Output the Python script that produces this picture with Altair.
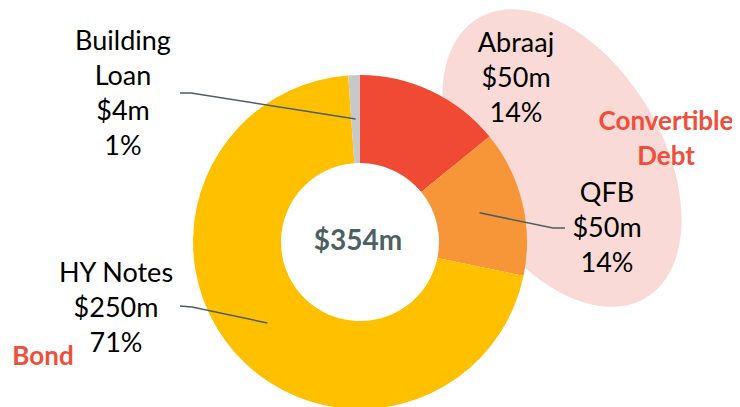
import math
import altair as alt
import pandas as pd

# ---- data ----
categories = ["Abraaj", "QFB", "HY Notes", "Building Loan"]
label_names = ["Abraaj", "QFB", "HY Notes", "Building\nLoan"]
values = [50, 50, 250, 4]  # $m
colors = ["#F04A34", "#F79638", "#FFC000", "#C8C8C8"]
group_names = ["Convertible\nDebt", "Bond"]

total = sum(values)
pcts = [round(v * 100 / total) for v in values]

# ---- layout (screen px minus page margin) ----
M = 8
W, H = 724, 399
CX, CY = 360 - M, 242 - M
R_OUT, R_IN = 167, 79
R_MID = (R_OUT + R_IN) / 2
FONT = "Lato"

# label anchors (center x, first baseline y) in screen px
label_pos = {
    "Abraaj": (516, 52),
    "QFB": (607, 202),
    "HY Notes": (116, 282),
    "Building Loan": (123, 50),
}
# leader line: outer point, knee (screen px)
leader_pts = {
    "QFB": [(565, 228), (553, 228)],
    "HY Notes": [(180, 306), (192, 307)],
    "Building Loan": [(180, 93), (191, 93)],
}
group_pos = [(666, 130), (43, 365)]

slices = pd.DataFrame({"cat": categories, "value": values, "order": range(len(values))})

# mid angles of slices -> leader endpoints
lines = []
cum = 0
for c, v in zip(categories, values):
    mid = (cum + v / 2) / total * 2 * math.pi
    cum += v
    if c in leader_pts:
        pts = leader_pts[c]
        ex = CX + R_MID * math.sin(mid)
        ey = CY - R_MID * math.cos(mid)
        seq = [(pts[0][0] - M, pts[0][1] - M), (pts[1][0] - M, pts[1][1] - M), (ex, ey)]
        for i, (x, y) in enumerate(seq):
            lines.append({"cat": c, "i": i, "x": x, "y": y})
lines = pd.DataFrame(lines)

labels = pd.DataFrame({
    "x": [label_pos[c][0] - M for c in categories],
    "y": [label_pos[c][1] - M for c in categories],
    "text": [f"{n}\n${v}m\n{p}%" for n, v, p in zip(label_names, values, pcts)],
})
groups = pd.DataFrame({
    "x": [p[0] - M for p in group_pos],
    "y": [p[1] - M for p in group_pos],
    "text": group_names,
})
center = pd.DataFrame({"text": [f"${total}m"]})

# ---- marks ----
a = 0.61
k = 0.5523
ellipse_path = (
    f"M 0,-1 C {k*a},-1 {a},-{k} {a},0 C {a},{k} {k*a},1 0,1 "
    f"C -{k*a},1 -{a},{k} -{a},0 C -{a},-{k} -{k*a},-1 0,-1 Z"
)
ellipse = alt.Chart(pd.DataFrame({"e": [1]})).mark_point(
    shape=ellipse_path, size=326 ** 2, angle=329, filled=True,
    color="#FADAD6", opacity=1, strokeWidth=0
).encode(x=alt.value(562 - M), y=alt.value(158 - M))

donut = alt.Chart(slices).mark_arc(innerRadius=R_IN, outerRadius=R_OUT).encode(
    theta=alt.Theta("value:Q", stack=True),
    order=alt.Order("order:Q"),
    color=alt.Color("cat:N", scale=alt.Scale(domain=categories, range=colors), legend=None),
    x=alt.value(CX),
    y=alt.value(CY),
)

leaders = alt.Chart(lines).mark_line(color="#4A5F64", strokeWidth=1.5).encode(
    x=alt.X("x:Q", scale=None),
    y=alt.Y("y:Q", scale=None),
    detail="cat:N",
    order="i:Q",
)

label_text = alt.Chart(labels).mark_text(
    align="center", baseline="alphabetic", lineBreak="\n", lineHeight=35,
    font=FONT, fontSize=27, color="#000000"
).encode(x=alt.X("x:Q", scale=None), y=alt.Y("y:Q", scale=None), text="text:N")

group_text = alt.Chart(groups).mark_text(
    align="center", baseline="alphabetic", lineBreak="\n", lineHeight=35,
    font=FONT, fontSize=26, fontWeight="bold", color="#F04E3C"
).encode(x=alt.X("x:Q", scale=None), y=alt.Y("y:Q", scale=None), text="text:N")

center_text = alt.Chart(center).mark_text(
    align="center", baseline="alphabetic", font=FONT, fontSize=28,
    fontWeight="bold", color="#4D6064"
).encode(x=alt.value(358 - M), y=alt.value(250 - M), text="text:N")

chart = alt.layer(ellipse, donut, leaders, label_text, group_text, center_text).properties(
    width=W, height=H, autosize="none", padding=0, background="white"
).configure_view(stroke=None)

chart.save("out.html", embed_options={"renderer": "svg", "actions": False})
